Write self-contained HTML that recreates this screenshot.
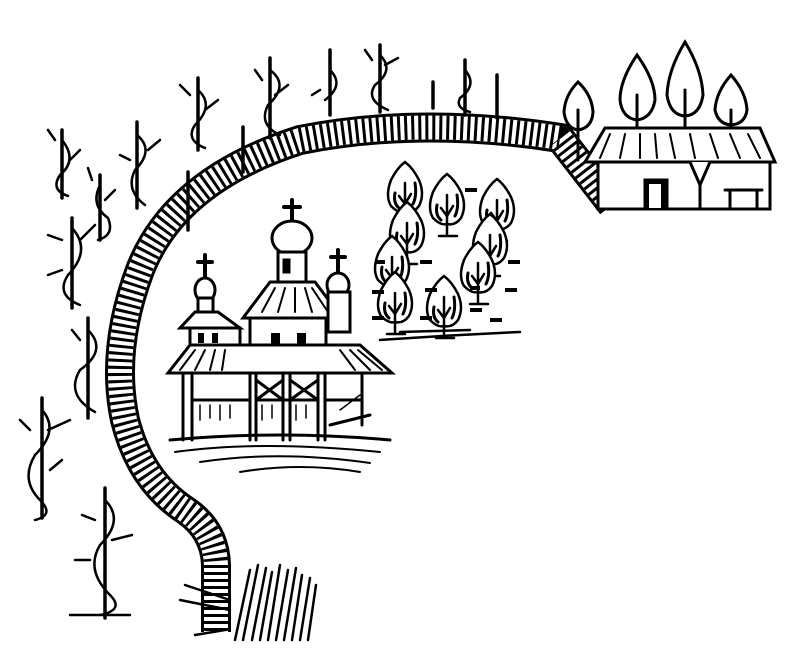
<!DOCTYPE html>
<html><head><meta charset="utf-8"><style>html,body{margin:0;padding:0;background:#fff;}svg{display:block}</style></head>
<body>
<svg width="789" height="665" viewBox="0 0 789 665" xmlns="http://www.w3.org/2000/svg" fill="none" stroke="#000" stroke-linecap="round">
<defs>
<g id="t" stroke-width="2.5" fill="#fff"><path d="M0,-26 Q-8,-20 -14,-8 Q-20,8 -14,18 Q-6,26 0,24 Q8,26 14,18 Q20,6 14,-8 Q8,-20 0,-26 Z"/><path d="M-10,5 Q-12,15 -6,20 M10,-5 Q12,8 8,16" stroke-width="3"/><path d="M0,-5 V36 M-6,8 L0,16 L6,6 M-8,36 H10"/></g>
</defs>
<!-- wall -->
<g>
<path d="M612,205 L560,138 Q420,116 300,140 Q175,180 140,270 Q110,350 125,420 Q140,480 185,510 Q215,530 216,565 L216,632" stroke-width="30" stroke-linecap="butt"/>
<path d="M612,205 L560,138 Q420,116 300,140 Q175,180 140,270 Q110,350 125,420 Q140,480 185,510 Q215,530 216,565 L216,632" stroke="#fff" stroke-width="24" stroke-linecap="butt"/>
<path d="M612,205 L560,138 Q420,116 300,140 Q175,180 140,270 Q110,350 125,420 Q140,480 185,510 Q215,530 216,565 L216,632" stroke-width="24" stroke-dasharray="3 4" stroke-linecap="butt"/>
</g>
<!-- grass bottom -->
<g stroke-width="2.5">
<path d="M235,640 L250,570 M243,640 L258,565 M252,640 L266,568 M260,640 L272,572 M268,640 L280,565 M276,640 L288,570 M284,640 L296,568 M292,640 L302,575 M300,640 L310,578 M308,640 L316,585"/>
<path d="M180,600 L230,610 M185,585 L230,600 M195,635 L225,630"/>
</g>
<!-- church -->
<g stroke-width="3">
<path d="M292,200 V222 M284,207 H300" stroke-width="4"/>
<ellipse cx="292" cy="238" rx="20" ry="17" fill="#fff"/>
<rect x="278" y="252" width="28" height="30" fill="#fff"/>
<rect x="284" y="260" width="5" height="12" fill="#000"/>
<path d="M270,282 H315 L342,318 H243 Z" fill="#fff"/>
<path d="M275,288 L262,312 M285,288 L278,312 M295,288 L295,312 M305,288 L312,312 M312,288 L328,312" stroke-width="2"/>
<rect x="250" y="318" width="76" height="40" fill="#fff"/>
<rect x="271" y="333" width="9" height="17" fill="#000" stroke="none"/>
<rect x="297" y="333" width="9" height="17" fill="#000" stroke="none"/>
<path d="M205,255 V278 M198,262 H212" stroke-width="4"/>
<ellipse cx="205" cy="290" rx="10" ry="12" fill="#fff"/>
<rect x="198" y="298" width="15" height="14" fill="#fff"/>
<path d="M195,312 H218 L240,328 H180 Z" fill="#fff"/>
<rect x="190" y="328" width="50" height="18" fill="#fff"/>
<rect x="198" y="333" width="6" height="10" fill="#000" stroke="none"/>
<rect x="212" y="333" width="6" height="10" fill="#000" stroke="none"/>
<path d="M338,250 V272 M331,257 H345" stroke-width="4"/>
<ellipse cx="338" cy="285" rx="11" ry="12" fill="#fff"/>
<rect x="328" y="292" width="22" height="40" fill="#fff"/>
<path d="M190,345 H360 L392,373 H168 Z" fill="#fff"/>
<path d="M195,350 L180,370 M205,350 L195,370 M215,350 L210,370 M225,350 L222,370 M340,350 L355,370 M350,350 L370,370 M358,350 L382,370" stroke-width="2"/>
<path d="M183,373 V440 M192,373 V440 M250,373 V440 M256,373 V440 M283,373 V440 M290,373 V440 M318,373 V440 M325,373 V440 M362,373 V425 M192,400 H250 M256,400 H318 M325,400 H362 M256,380 L283,400 M283,380 L256,400 M290,380 L318,400 M318,380 L290,400 M330,425 L370,415"/>
<path d="M200,405 V420 M210,405 V418 M220,405 V420 M230,405 V418 M262,405 V420 M272,405 V418 M296,405 V420 M306,405 V418 M340,410 L360,395" stroke-width="1.5"/>
<path d="M170,440 Q280,430 390,440" />
<path d="M175,452 Q260,440 380,452 M200,462 Q280,450 370,463 M240,472 Q300,462 360,472" stroke-width="2"/>
</g>
<path d="M380,340 Q450,335 520,332 M400,332 L470,330" stroke-width="2.5"/>
<!-- trees middle -->
<use href="#t" x="405" y="188"/>
<use href="#t" x="447" y="200"/>
<use href="#t" x="497" y="205"/>
<use href="#t" x="407" y="228"/>
<use href="#t" x="490" y="240"/>
<use href="#t" x="392" y="262"/>
<use href="#t" x="478" y="268"/>
<use href="#t" x="395" y="298"/>
<use href="#t" x="444" y="302"/>
<g stroke-width="4" stroke-linecap="butt">
<path d="M375,262 H385 M372,292 H384 M372,318 H384 M420,262 H432 M425,290 H437 M470,310 H482 M505,290 H517 M508,262 H520 M420,318 H432 M465,190 H477 M470,288 H480 M490,320 H502"/>
</g>
<!-- house -->
<g stroke-width="3" fill="#fff">
<path d="M578,82 Q565,95 564,112 Q566,128 578,130 Q592,128 593,112 Q592,95 578,82 Z"/><path d="M578,110 V160"/>
<path d="M637,55 Q620,80 620,100 Q622,118 637,120 Q652,118 655,100 Q655,80 637,55 Z"/><path d="M637,95 V150"/>
<path d="M685,42 Q668,70 667,95 Q670,115 685,116 Q700,115 703,95 Q702,70 685,42 Z"/><path d="M685,90 V150"/>
<path d="M731,75 Q716,92 715,110 Q718,124 731,125 Q745,124 747,110 Q746,92 731,75 Z"/><path d="M731,110 V150"/>
<path d="M605,128 H760 L775,162 H585 Z"/>
<path d="M610,134 L600,158 M625,134 L620,158 M640,134 L640,158 M655,134 L657,158 M670,134 L675,158 M690,134 L695,158 M710,134 L718,158 M730,134 L740,158 M748,134 L760,158" stroke-width="2"/>
<rect x="598" y="162" width="172" height="47"/>
<rect x="645" y="180" width="22" height="28" fill="#000"/>
<rect x="649" y="184" width="12" height="24" fill="#fff" stroke="none"/>
<path d="M690,162 L700,185 L710,162 M700,185 V208 M725,190 H762 M730,190 V207 M757,190 V207"/>
</g>
<!-- posts & vines -->
<g stroke-width="3.5">
<path d="M188,172 V230 M243,127 V172 M330,50 V115 M465,60 V115 M497,75 V118"/>
<path d="M62,130 V198 M100,175 V240 M137,122 V208 M198,78 V150 M270,58 V138 M380,45 V112 M88,318 V418 M42,398 V518 M105,488 V618 M72,218 V308 M433,82 V108"/>
</g>
<g stroke-width="2.5">
<path d="M62,140 Q78,160 60,175 Q50,190 68,196 M55,140 L48,130 M70,160 L80,150"/>
<path d="M100,185 Q90,205 108,218 Q115,235 98,240 M92,180 L88,168 M105,200 L115,190"/>
<path d="M137,135 Q155,150 135,170 Q125,190 145,205 M148,150 L160,140 M130,160 L120,155"/>
<path d="M198,90 Q215,105 195,125 Q185,140 205,148 M190,95 L180,85 M205,110 L218,100"/>
<path d="M270,70 Q290,85 268,105 Q258,125 280,135 M262,80 L255,70 M275,95 L288,85"/>
<path d="M330,70 Q345,85 325,100 M320,90 L312,95"/>
<path d="M380,55 Q395,70 375,85 Q365,100 388,110 M372,60 L365,50 M385,65 L398,58"/>
<path d="M465,70 Q478,85 460,98 Q455,108 470,112"/>
<path d="M72,228 Q92,250 68,275 Q55,295 80,305 M62,240 L48,235 M80,240 L95,225 M62,270 L48,275"/>
<path d="M88,330 Q108,350 80,370 Q65,395 95,412 M80,340 L72,330"/>
<path d="M42,410 Q60,430 35,455 Q20,480 40,500 Q55,515 35,520 M48,430 L70,420 M30,430 L20,420 M50,470 L62,460"/>
<path d="M105,500 Q125,520 100,545 Q85,570 110,595 Q125,610 100,615 M95,520 L82,515 M112,540 L132,535 M90,560 L75,560 M70,615 H130"/>
</g>
</svg>
</body></html>
